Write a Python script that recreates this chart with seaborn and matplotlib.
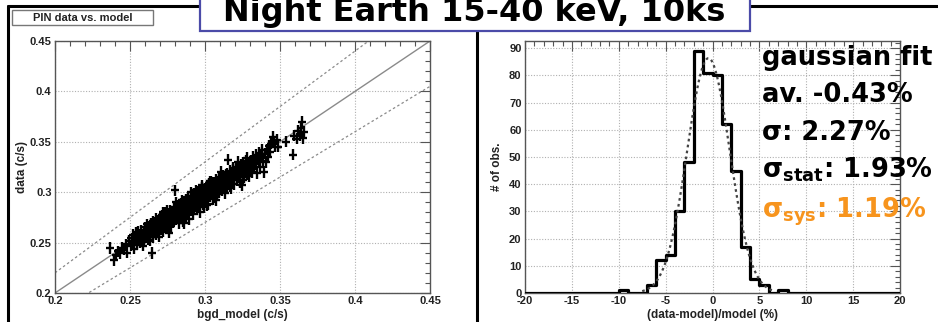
import numpy as np
import pandas as pd
import matplotlib
matplotlib.use("Agg")
import matplotlib.pyplot as plt
import seaborn as sns
from matplotlib.lines import Line2D
from matplotlib.patches import Rectangle
from matplotlib.ticker import MultipleLocator, FixedLocator

# ---------------- data ----------------
bgd_model = [
    0.2367, 0.2393, 0.2405, 0.2420, 0.2435, 0.2445, 0.2460, 0.2475, 0.2480, 0.2495,
    0.2505, 0.2510, 0.2515, 0.2522, 0.2528, 0.2533, 0.2540, 0.2545, 0.2550, 0.2555,
    0.2560, 0.2565, 0.2570, 0.2575, 0.2580, 0.2585, 0.2590, 0.2593, 0.2597, 0.2600,
    0.2538, 0.2578,
    0.2605, 0.2610, 0.2615, 0.2620, 0.2622, 0.2627, 0.2630, 0.2635, 0.2640, 0.2645,
    0.2647, 0.2650, 0.2655, 0.2660, 0.2663, 0.2668, 0.2672, 0.2675, 0.2680, 0.2684,
    0.2688, 0.2692, 0.2695, 0.2698, 0.2700, 0.2612, 0.2633, 0.2652, 0.2671, 0.2690,
    0.2617, 0.2642, 0.2658, 0.2679, 0.2696,
    0.2703, 0.2707, 0.2710, 0.2713, 0.2716, 0.2720, 0.2723, 0.2726, 0.2730, 0.2733,
    0.2736, 0.2740, 0.2743, 0.2746, 0.2750, 0.2753, 0.2756, 0.2760, 0.2763, 0.2766,
    0.2770, 0.2773, 0.2776, 0.2780, 0.2783, 0.2786, 0.2790, 0.2793, 0.2796, 0.2800,
    0.2705, 0.2718, 0.2732, 0.2748, 0.2762, 0.2778, 0.2788, 0.2798, 0.2758, 0.2728,
    0.2803, 0.2806, 0.2809, 0.2812, 0.2815, 0.2818, 0.2821, 0.2824, 0.2827, 0.2830,
    0.2833, 0.2836, 0.2839, 0.2842, 0.2845, 0.2848, 0.2851, 0.2854, 0.2857, 0.2860,
    0.2863, 0.2866, 0.2869, 0.2872, 0.2875, 0.2878, 0.2881, 0.2884, 0.2887, 0.2890,
    0.2893, 0.2896, 0.2899, 0.2808, 0.2826, 0.2844, 0.2858, 0.2874, 0.2888, 0.2817,
    0.2835, 0.2853, 0.2871, 0.2883, 0.2897,
    0.2902, 0.2905, 0.2908, 0.2911, 0.2914, 0.2917, 0.2920, 0.2923, 0.2926, 0.2929,
    0.2932, 0.2935, 0.2938, 0.2941, 0.2944, 0.2947, 0.2950, 0.2953, 0.2956, 0.2959,
    0.2962, 0.2965, 0.2968, 0.2971, 0.2974, 0.2977, 0.2980, 0.2983, 0.2986, 0.2989,
    0.2992, 0.2995, 0.2998, 0.2907, 0.2925, 0.2943, 0.2961, 0.2979, 0.2993, 0.2913,
    0.2931, 0.2949, 0.2967, 0.2985, 0.2999,
    0.3002, 0.3005, 0.3008, 0.3011, 0.3014, 0.3017, 0.3020, 0.3023, 0.3026, 0.3029,
    0.3032, 0.3035, 0.3038, 0.3041, 0.3044, 0.3047, 0.3050, 0.3053, 0.3056, 0.3059,
    0.3062, 0.3065, 0.3068, 0.3071, 0.3074, 0.3077, 0.3080, 0.3083, 0.3086, 0.3089,
    0.3092, 0.3095, 0.3098, 0.3010, 0.3031, 0.3052, 0.3073, 0.3094, 0.3015, 0.3043,
    0.3067, 0.3085,
    0.3102, 0.3106, 0.3110, 0.3114, 0.3118, 0.3122, 0.3126, 0.3130, 0.3134, 0.3138,
    0.3142, 0.3146, 0.3150, 0.3153, 0.3156, 0.3160, 0.3164, 0.3168, 0.3172, 0.3176,
    0.3180, 0.3184, 0.3188, 0.3192, 0.3196, 0.3199, 0.3108, 0.3128, 0.3148, 0.3166,
    0.3186, 0.3116, 0.3136, 0.3158, 0.3178,
    0.3203, 0.3207, 0.3212, 0.3216, 0.3220, 0.3224, 0.3228, 0.3232, 0.3236, 0.3240,
    0.3244, 0.3247, 0.3250, 0.3254, 0.3258, 0.3262, 0.3266, 0.3270, 0.3274, 0.3278,
    0.3282, 0.3286, 0.3290, 0.3295, 0.3299, 0.3218, 0.3256, 0.3280,
    0.3303, 0.3308, 0.3313, 0.3318, 0.3323, 0.3328, 0.3333, 0.3338, 0.3343, 0.3348,
    0.3353, 0.3358, 0.3363, 0.3368, 0.3373, 0.3378, 0.3385, 0.3393,
    0.3402, 0.3408, 0.3415, 0.3420, 0.3428, 0.3435, 0.3442, 0.3453, 0.3460, 0.3470,
    0.3480, 0.3487,
    0.3540, 0.3587, 0.3595, 0.3610, 0.3620, 0.3630, 0.3640, 0.3647, 0.3653, 0.3660,
    0.3642,
]
pin_data = [
    0.2446, 0.2327, 0.2380, 0.2415, 0.2395, 0.2450, 0.2430, 0.2485, 0.2400, 0.2520,
    0.2470, 0.2545, 0.2495, 0.2580, 0.2440, 0.2520, 0.2555, 0.2480, 0.2610, 0.2530,
    0.2575, 0.2500, 0.2545, 0.2620, 0.2560, 0.2470, 0.2595, 0.2530, 0.2650, 0.2580,
    0.2600, 0.2510,
    0.2555, 0.2625, 0.2590, 0.2660, 0.2530, 0.2600, 0.2640, 0.2570, 0.2690, 0.2620,
    0.2397, 0.2555, 0.2660, 0.2600, 0.2700, 0.2640, 0.2580, 0.2680, 0.2625, 0.2720,
    0.2660, 0.2600, 0.2705, 0.2650, 0.2740, 0.2680, 0.2520, 0.2710, 0.2735, 0.2560,
    0.2560, 0.2650, 0.2625, 0.2690, 0.2680,
    0.2680, 0.2630, 0.2720, 0.2770, 0.2660, 0.2700, 0.2610, 0.2750, 0.2690, 0.2725,
    0.2800, 0.2670, 0.2760, 0.2710, 0.2640, 0.2790, 0.2730, 0.2690, 0.2770, 0.2820,
    0.2720, 0.2660, 0.2760, 0.2800, 0.2740, 0.2700, 0.2850, 0.2780, 0.2720, 0.3020,
    0.2740, 0.2800, 0.2650, 0.2820, 0.2600, 0.2700, 0.2760, 0.2810, 0.2745, 0.2710,
    0.2770, 0.2830, 0.2730, 0.2800, 0.2870, 0.2760, 0.2820, 0.2690, 0.2790, 0.2850,
    0.2810, 0.2740, 0.2890, 0.2830, 0.2780, 0.2860, 0.2710, 0.2800, 0.2910, 0.2840,
    0.2770, 0.2870, 0.2820, 0.2930, 0.2760, 0.2850, 0.2890, 0.2800, 0.2950, 0.2860,
    0.2730, 0.2900, 0.2830, 0.2900, 0.2750, 0.2920, 0.2690, 0.2880, 0.2820, 0.2845,
    0.2800, 0.2880, 0.2790, 0.2930, 0.2870,
    0.2880, 0.2940, 0.2820, 0.2900, 0.2960, 0.2850, 0.2920, 0.2780, 0.2890, 0.2990,
    0.2940, 0.2860, 0.2920, 0.2970, 0.2890, 0.2830, 0.2950, 0.3010, 0.2910, 0.2860,
    0.2980, 0.2940, 0.2800, 0.3030, 0.2960, 0.2900, 0.2990, 0.3050, 0.2930, 0.2880,
    0.3010, 0.2970, 0.2910, 0.3000, 0.2840, 0.3020, 0.2900, 0.3070, 0.2850, 0.2920,
    0.2890, 0.2990, 0.2940, 0.3000, 0.3040,
    0.2980, 0.3040, 0.2930, 0.3010, 0.3070, 0.2960, 0.3030, 0.2880, 0.3000, 0.3090,
    0.3040, 0.2960, 0.3020, 0.3110, 0.2990, 0.3060, 0.2930, 0.3030, 0.3100, 0.3000,
    0.3070, 0.2950, 0.3040, 0.3130, 0.3020, 0.3080, 0.2980, 0.3050, 0.3110, 0.3010,
    0.3070, 0.3150, 0.3040, 0.2870, 0.3110, 0.2990, 0.2920, 0.3000, 0.3000, 0.3050,
    0.3100, 0.3060,
    0.3080, 0.3130, 0.3020, 0.3100, 0.3170, 0.3060, 0.3120, 0.2990, 0.3090, 0.3180,
    0.3130, 0.3050, 0.3110, 0.3320, 0.3160, 0.3080, 0.3140, 0.3210, 0.3100, 0.3040,
    0.3170, 0.3130, 0.3220, 0.3080, 0.3150, 0.3190, 0.3200, 0.3040, 0.3190, 0.3060,
    0.3240, 0.3120, 0.3150, 0.3120, 0.3130,
    0.3170, 0.3230, 0.3120, 0.3190, 0.3250, 0.3150, 0.3210, 0.3100, 0.3190, 0.3270,
    0.3220, 0.3070, 0.3240, 0.3290, 0.3200, 0.3150, 0.3260, 0.3220, 0.3310, 0.3180,
    0.3250, 0.3290, 0.3220, 0.3160, 0.3270, 0.3300, 0.3120, 0.3340,
    0.3250, 0.3310, 0.3200, 0.3290, 0.3350, 0.3240, 0.3300, 0.3370, 0.3280, 0.3190,
    0.3330, 0.3390, 0.3300, 0.3250, 0.3350, 0.3420, 0.3310, 0.3200,
    0.3380, 0.3300, 0.3420, 0.3350, 0.3460, 0.3400, 0.3480, 0.3548, 0.3500, 0.3450,
    0.3520, 0.3450,
    0.3500, 0.3370, 0.3560, 0.3530, 0.3610, 0.3560, 0.3640, 0.3696, 0.3538, 0.3600,
    0.3580,
]
xerr_val = 0.0027
yerr_val = 0.0055

ref_slopes = [1.0, 1.1, 0.9]          # y = x and +/-10% lines
ref_x = [0.2, 0.45]

bin_lefts = [-10, -7, -6, -5, -4, -3, -2, -1, 0, 1, 2, 3, 4, 5, 7]
bin_counts = [1, 3, 12, 14, 30, 48, 89, 81, 80, 62, 45, 17, 5, 3, 1]
fit_mean = -0.43
fit_sigma = 2.27

left_ticks = [0.2, 0.25, 0.3, 0.35, 0.4, 0.45]
left_ticklabels = ["0.2", "0.25", "0.3", "0.35", "0.4", "0.45"]
right_xticks = [-20, -15, -10, -5, 0, 5, 10, 15, 20]
right_xticklabels = ["-20", "-15", "-10", "-5", "0", "5", "10", "15", "20"]
right_yticks = [0, 10, 20, 30, 40, 50, 60, 70, 80, 90]
right_yticklabels = ["0", "10", "20", "30", "40", "50", "60", "70", "80", "90"]

title_text = "Night Earth 15-40 keV, 10ks"
panel_title = "PIN data vs. model"
fit_lines = ["gaussian fit", "av. -0.43%", "σ: 2.27%",
             "σ$_{\\mathbf{stat}}$: 1.93%", "σ$_{\\mathbf{sys}}$: 1.19%"]
fit_colors = ["black", "black", "black", "black", "#f7941d"]

# ---------------- style ----------------
sns.set_theme(style="white")
plt.rcParams["font.family"] = ["Liberation Sans", "DejaVu Sans"]
plt.rcParams["axes.unicode_minus"] = False
plt.rcParams["mathtext.fontset"] = "dejavusans"
plt.rcParams["mathtext.default"] = "bf"

W, H = 938, 322
fig = plt.figure(figsize=(W / 100, H / 100), dpi=100)
fig.patch.set_facecolor("white")

def fx(px):
    return px / W

def fy(py):
    return 1 - py / H

ax1 = fig.add_axes([fx(55), fy(293), fx(430) - fx(55), fy(41) - fy(293)])
ax2 = fig.add_axes([fx(525), fy(293), fx(900) - fx(525), fy(41) - fy(293)])

frame_col = "#555555"
tick_font = dict(fontsize=8, fontweight="bold", color="#222222")

# ---- left: data vs model ----
df = pd.DataFrame({"model": bgd_model, "data": pin_data})
for slope, ls, lw in zip(ref_slopes, ["-", (0, (2, 2)), (0, (2, 2))], [1.0, 0.9, 0.9]):
    lined = pd.DataFrame({"x": ref_x, "y": [v * slope for v in ref_x]})
    sns.lineplot(data=lined, x="x", y="y", ax=ax1, color="#8a8a8a",
                 linestyle=ls, linewidth=lw, zorder=2)
ax1.errorbar(df["model"], df["data"], xerr=xerr_val, yerr=yerr_val,
             fmt="none", ecolor="black", elinewidth=1.7, zorder=3)
ax1.set_xlim(0.2, 0.45)
ax1.set_ylim(0.2, 0.45)
ax1.xaxis.set_major_locator(FixedLocator(left_ticks))
ax1.yaxis.set_major_locator(FixedLocator(left_ticks))
ax1.set_xticklabels(left_ticklabels, **tick_font)
ax1.set_yticklabels(left_ticklabels, **tick_font)
ax1.xaxis.set_minor_locator(MultipleLocator(0.01))
ax1.yaxis.set_minor_locator(MultipleLocator(0.01))
ax1.set_xlabel("bgd_model (c/s)", fontsize=8.5, fontweight="bold", color="#222222")
ax1.set_ylabel("data (c/s)", fontsize=8.5, fontweight="bold", color="#222222")
ax1.xaxis.set_label_coords(0.5, -0.065)
ax1.yaxis.set_label_coords(-0.072, 0.5)

# ---- right: histogram ----
hist_df = pd.DataFrame({"center": [b + 0.5 for b in bin_lefts], "count": bin_counts})
sns.histplot(data=hist_df, x="center", weights="count", binwidth=1, binrange=(-20, 20),
             element="step", fill=False, color="black", linewidth=2.3, ax=ax2, zorder=3)
n_tot = float(np.sum(bin_counts))
gx = np.linspace(-7.5, 6.5, 300)
gy = n_tot / (fit_sigma * np.sqrt(2 * np.pi)) * np.exp(-0.5 * ((gx - fit_mean) / fit_sigma) ** 2)
sns.lineplot(x=gx, y=gy, ax=ax2, color="#444444", linestyle=(0, (1.2, 1.5)),
             linewidth=1.6, zorder=4)
ax2.set_xlim(-20, 20)
ax2.set_ylim(0, 92.6)
ax2.xaxis.set_major_locator(FixedLocator(right_xticks))
ax2.yaxis.set_major_locator(FixedLocator(right_yticks))
ax2.set_xticklabels(right_xticklabels, **tick_font)
ax2.set_yticklabels(right_yticklabels, **tick_font)
ax2.xaxis.set_minor_locator(MultipleLocator(1))
ax2.yaxis.set_minor_locator(MultipleLocator(2))
ax2.set_xlabel("(data-model)/model (%)", fontsize=8.5, fontweight="bold", color="#222222")
ax2.set_ylabel("# of obs.", fontsize=8.5, fontweight="bold", color="#222222")
ax2.xaxis.set_label_coords(0.5, -0.065)
ax2.yaxis.set_label_coords(-0.058, 0.5)

for ax in (ax1, ax2):
    ax.grid(True, which="major", linestyle=(0, (1, 1.5)), color="#b0b0b0", linewidth=0.8, zorder=0)
    ax.set_axisbelow(True)
    ax.tick_params(which="both", direction="in", top=True, right=True,
                   color=frame_col, width=0.8, pad=2.5)
    ax.tick_params(which="major", length=7)
    ax.tick_params(which="minor", length=3.5)
    for s in ax.spines.values():
        s.set_color(frame_col)
        s.set_linewidth(1.0)

# ---- slide frame ----
lw_frame = 2.2
fig.add_artist(Line2D([fx(8), fx(938)], [fy(6), fy(6)], color="black", lw=lw_frame, zorder=1))
fig.add_artist(Line2D([fx(8), fx(8)], [fy(6), fy(322)], color="black", lw=lw_frame, zorder=1))
fig.add_artist(Line2D([fx(477), fx(477)], [fy(30), fy(322)], color="black", lw=lw_frame, zorder=1))

# panel title box
fig.add_artist(Rectangle((fx(12), fy(25)), fx(153) - fx(12), fy(10) - fy(25),
                         facecolor="white", edgecolor="#777777", lw=1.0, zorder=5))
fig.text(fx(83), fy(18), panel_title, ha="center", va="center", fontsize=8,
         fontweight="bold", color="#222222", zorder=6)

# main title box
fig.add_artist(Rectangle((fx(200), fy(31)), fx(750) - fx(200), fy(-5) - fy(31),
                         facecolor="white", edgecolor="#4b4ba8", lw=1.6, zorder=7))
fig.text(fx(474), fy(20.5), title_text, ha="center", va="baseline", fontsize=23,
         fontweight="bold", family="DejaVu Sans", color="black", zorder=8)

# fit results
baselines = [65, 102, 140, 178, 218]
for txt, col, b in zip(fit_lines, fit_colors, baselines):
    fig.text(fx(762), fy(b), txt, ha="left", va="baseline", fontsize=18.5,
             fontweight="bold", family="DejaVu Sans", color=col, zorder=9)

fig.savefig("out.png", dpi=100, facecolor="white")
